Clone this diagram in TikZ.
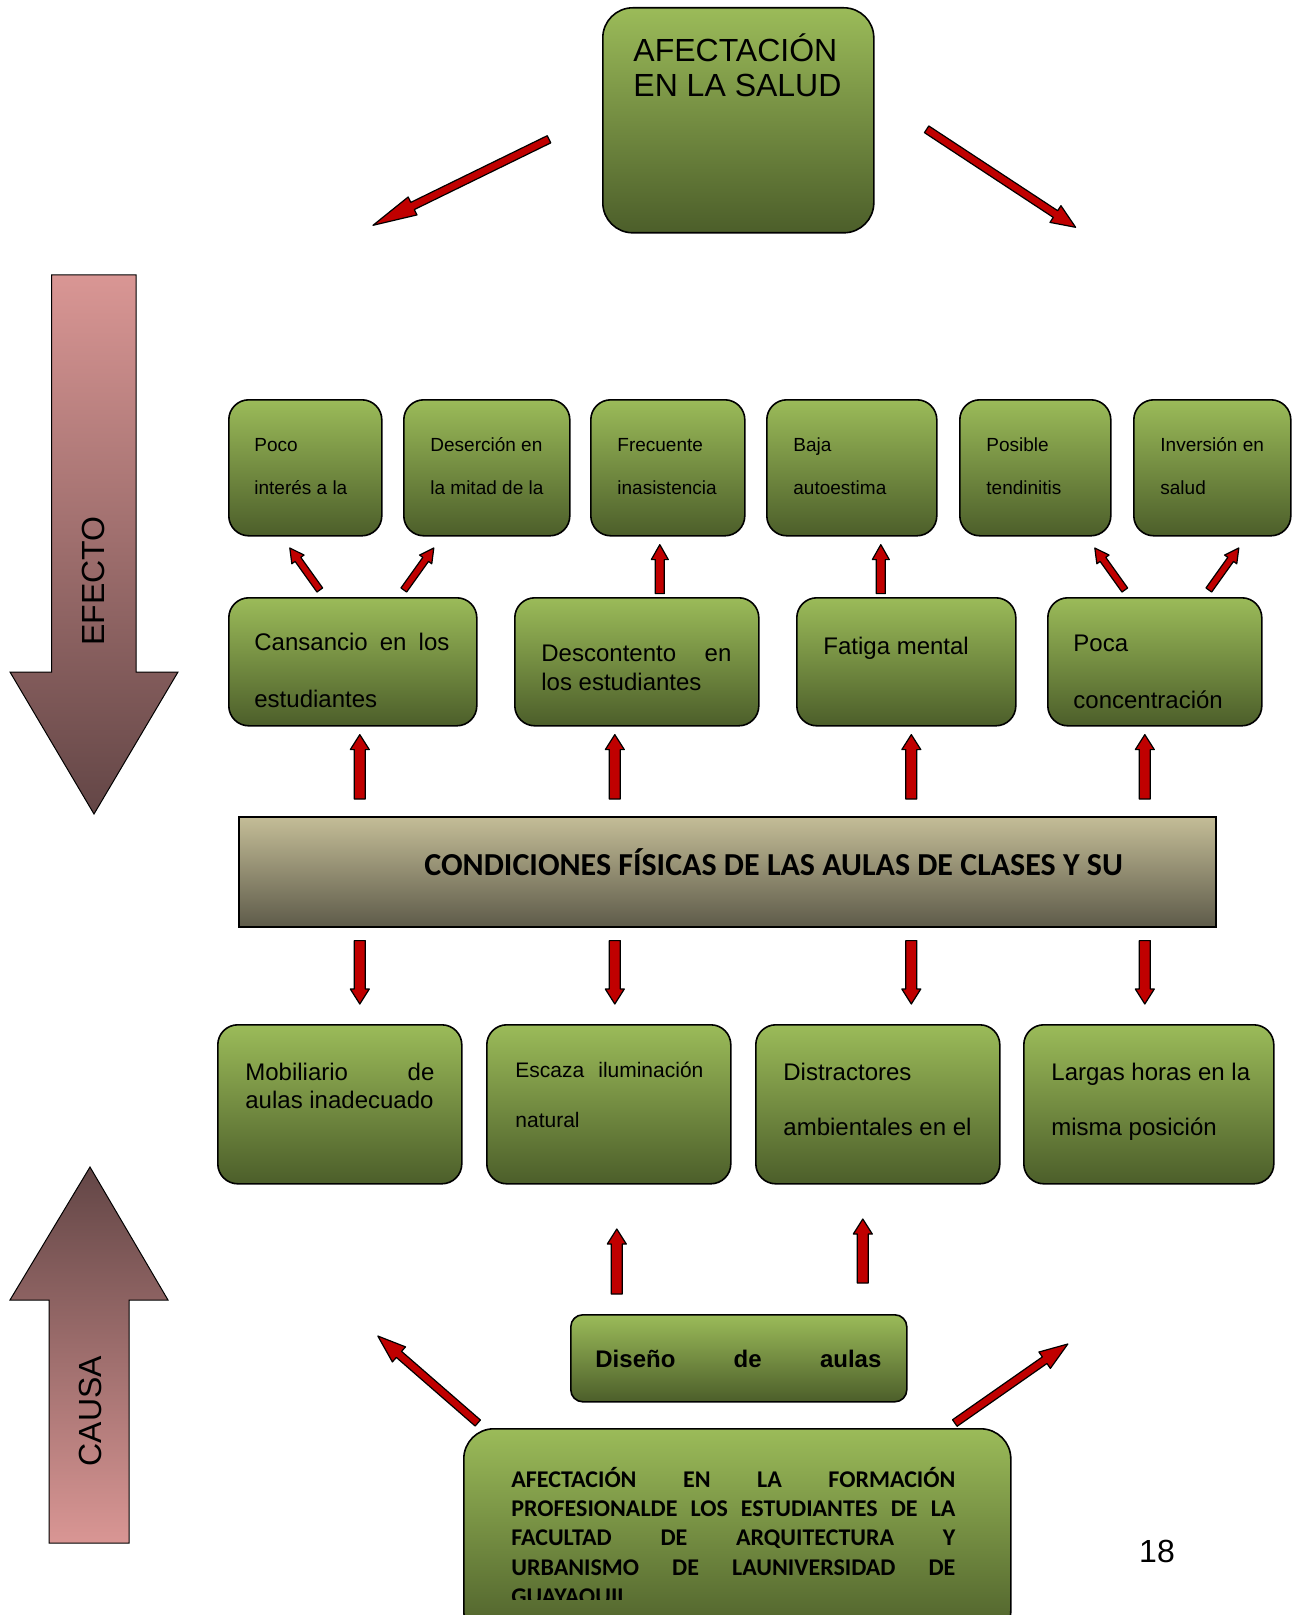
\documentclass[tikz,border=0pt]{standalone}
\usepackage{fontspec}
\setmainfont{Liberation Sans}
\newfontfamily\calibrifont{Carlito}
\usetikzlibrary{positioning,calc}

\definecolor{olivetop}{RGB}{155,187,89}
\definecolor{olivebot}{RGB}{76,94,42}
\definecolor{sandtop}{RGB}{196,189,151}
\definecolor{sandbot}{RGB}{94,91,74}
\definecolor{rosetop}{RGB}{217,150,148}
\definecolor{rosebot}{RGB}{99,70,70}
\definecolor{arrowred}{RGB}{192,0,0}

\newcommand{\fs}[2]{\fontsize{#1}{#2}\selectfont}
\newcommand{\stack}[1]{\begin{tabular}[t]{@{}l@{}}#1\end{tabular}}

\tikzset{
	greenbox/.style={draw=black, line width=0.8pt, rounded corners=10pt, top color=olivetop, bottom color=olivebot, anchor=north west, inner sep=0pt},
	txt/.style={anchor=base west, inner sep=0pt},
	arrowbody/.style={fill=arrowred, draw=black, line width=0.6pt, line join=round},
}

% #1 half shaft, #2 half head, #3 head length, #4 from, #5 to
\newcommand{\blockarrow}[5]{%
	\filldraw[arrowbody] let \p1=#4, \p2=#5,
		\n1={atan2(\y2-\y1,\x2-\x1)},
		\n2={veclen(\x2-\x1,\y2-\y1)-#3} in
		($(\p1)+(\n1+90:#1)$) -- ($(\p1)+(\n1:\n2)+(\n1+90:#1)$)
		-- ($(\p1)+(\n1:\n2)+(\n1+90:#2)$) -- (\p2)
		-- ($(\p1)+(\n1:\n2)+(\n1-90:#2)$) -- ($(\p1)+(\n1:\n2)+(\n1-90:#1)$)
		-- ($(\p1)+(\n1-90:#1)$) -- cycle;}
\newcommand{\longarrow}[3][22pt]{\blockarrow{2pt}{5pt}{#1}{#2}{#3}}
\newcommand{\stemarrow}[2]{\blockarrow{2.75pt}{4.75pt}{7.5pt}{#1}{#2}}
\newcommand{\midarrow}[2]{\blockarrow{2.25pt}{4.25pt}{7.5pt}{#1}{#2}}
\newcommand{\thinarrow}[2]{\blockarrow{1.75pt}{3.75pt}{7pt}{#1}{#2}}

\begin{document}
\begin{tikzpicture}[x=0.5pt, y=-0.5pt]
	\useasboundingbox (0,0) rectangle (1301,1615);

	\shadedraw[top color=rosetop, bottom color=rosebot, draw=black, line width=0.5pt]
		(51.5,275) -- (136,275) -- (136,672) -- (178,672) -- (94,814) -- (10,672) -- (51.5,672) -- cycle;
	\node[rotate=90, font=\fs{16}{19}, name=efecto] at (93,581) {EFECTO};
	\shadedraw[top color=rosebot, bottom color=rosetop, draw=black, line width=0.5pt]
		(90,1167) -- (168,1300) -- (129,1300) -- (129,1543) -- (49,1543) -- (49,1300) -- (10,1300) -- cycle;
	\node[rotate=90, font=\fs{16}{19}, name=causa] at (90,1411) {CAUSA};

	\node[greenbox, name=salud, rounded corners=15pt, minimum width=135.5pt, minimum height=112.5pt] at (602,7) {};
	\node[txt, font=\fs{16}{17.5}] at ($(salud.north west)+(31,55)$) {\stack{AFECTACIÓN\\EN LA SALUD}};

	\foreach \name/\x/\w in {poco/228/76.5pt, desercion/403/83pt, frecuente/590/77pt, baja/766/85pt, posible/959/75.5pt, inversion/1133/78.5pt}
		\node[greenbox, name=\name, minimum width=\w, minimum height=68pt] at (\x,399) {};
	\node[txt, font=\fs{9.5}{21.5}] at ($(poco.north west)+(26,52)$) {\stack{Poco\\interés a la}};
	\node[txt, font=\fs{9.5}{21.5}] at ($(desercion.north west)+(27,52)$) {\stack{Deserción en\\la mitad de la}};
	\node[txt, font=\fs{9.5}{21.5}] at ($(frecuente.north west)+(27,52)$) {\stack{Frecuente\\inasistencia}};
	\node[txt, font=\fs{9.5}{21.5}] at ($(baja.north west)+(27,52)$) {\stack{Baja\\autoestima}};
	\node[txt, font=\fs{9.5}{21.5}] at ($(posible.north west)+(27,52)$) {\stack{Posible\\tendinitis}};
	\node[txt, font=\fs{9.5}{21.5}] at ($(inversion.north west)+(27,52)$) {\stack{Inversión en\\salud}};

	\foreach \name/\x/\w in {cansancio/228/124pt, descontento/514/122pt, fatiga/796/109.5pt, poca/1047/107pt}
		\node[greenbox, name=\name, minimum width=\w, minimum height=64pt] at (\x,597) {};
	\node[txt, font=\fs{12}{28.5}] at ($(cansancio.north west)+(26,53)$) {\stack{\makebox[97.5pt][s]{Cansancio en los}\\estudiantes}};
	\node[txt, font=\fs{12}{14.5}] at ($(descontento.north west)+(27,64)$) {\stack{\makebox[95pt][s]{Descontento en}\\los estudiantes}};
	\node[txt, font=\fs{12}{14.5}] at ($(fatiga.north west)+(27,57)$) {Fatiga mental};
	\node[txt, font=\fs{12}{28.5}] at ($(poca.north west)+(26,54)$) {\stack{Poca\\concentración}};

	\node[name=cond, draw=black, line width=0.8pt, top color=sandtop, bottom color=sandbot, anchor=north west,
		minimum width=488.5pt, minimum height=55pt, inner sep=0pt] at (238,816) {};
	\node[txt, font=\calibrifont\bfseries\fs{16}{19}] at ($(cond.north west)+(186,59)$) {CONDICIONES FÍSICAS DE LAS AULAS DE CLASES Y SU};

	\foreach \name/\x/\w in {mobiliario/217/122pt, escaza/486/122pt, distractores/755/122pt, largas/1023/125pt}
		\node[greenbox, name=\name, minimum width=\w, minimum height=79.5pt] at (\x,1024) {};
	\node[txt, font=\fs{12}{14}] at ($(mobiliario.north west)+(28,56)$) {\stack{\makebox[94.5pt][s]{Mobiliario de}\\aulas inadecuado}};
	\node[txt, font=\fs{10.5}{25}] at ($(escaza.north west)+(29,53)$) {\stack{\makebox[94pt][s]{Escaza iluminación}\\natural}};
	\node[txt, font=\fs{12}{27.5}] at ($(distractores.north west)+(28,56)$) {\stack{Distractores\\ambientales en el}};
	\node[txt, font=\fs{12}{27.5}] at ($(largas.north west)+(28,56)$) {\stack{Largas horas en la\\misma posición}};

	\node[greenbox, name=diseno, rounded corners=6pt, minimum width=168pt, minimum height=43.5pt] at (570,1314) {};
	\node[txt, font=\bfseries\fs{12}{14}] at ($(diseno.north west)+(25,53)$) {\makebox[143pt][s]{Diseño de aulas}};

	\node[greenbox, name=formacion, rounded corners=15pt, minimum width=273.5pt, minimum height=106pt] at (463,1428) {};
	\begin{scope}
		\clip (463,1428) rectangle (1010,1599);
		\node[txt, font=\calibrifont\bfseries\fs{12}{14.7}] at ($(formacion.north west)+(48,59)$)
			{\stack{\makebox[222pt][s]{AFECTACIÓN EN LA FORMACIÓN}\\
			\makebox[222pt][s]{PROFESIONALDE LOS ESTUDIANTES DE LA}\\
			\makebox[222pt][s]{FACULTAD DE ARQUITECTURA Y}\\
			\makebox[222pt][s]{URBANISMO DE LAUNIVERSIDAD DE}\\
			GUAYAQUIL}};
	\end{scope}

	\node[font=\fs{16}{19}, name=pagina] at (1157,1551) {18};

	\longarrow[22pt]{($(salud.west)+(-53,19)$)}{($(salud.west)+(-229,105)$)}
	\longarrow[12pt]{($(salud.east)+(52,9)$)}{($(salud.east)+(201,107)$)}

	\thinarrow{($(cansancio.north)+(-33,-7)$)}{($(cansancio.north)+(-63,-49)$)}
	\thinarrow{($(cansancio.north)+(51,-7)$)}{($(cansancio.north)+(81,-49)$)}
	\thinarrow{($(poca.north)+(-30,-7)$)}{($(poca.north)+(-60,-49)$)}
	\thinarrow{($(poca.north)+(54,-7)$)}{($(poca.north)+(84,-49)$)}
	\midarrow{($(frecuente.south)+(-8,57)$)}{($(frecuente.south)+(-8,8)$)}
	\midarrow{($(baja.south)+(29,57)$)}{($(baja.south)+(29,8)$)}

	\foreach \b/\dx in {cansancio/7, descontento/-22, fatiga/5, poca/-10}{
		\stemarrow{($(\b.south |- cond.north)+(\dx,-17)$)}{($(\b.south)+(\dx,8)$)}
		\stemarrow{($(\b.south |- cond.south)+(\dx,13)$)}{($(\b.south |- mobiliario.north)+(\dx,-20)$)}
	}

	\stemarrow{($(diseno.north)+(-122,-20)$)}{($(diseno.north)+(-122,-85)$)}
	\stemarrow{($(diseno.north)+(124,-31)$)}{($(diseno.north)+(124,-95)$)}

	\longarrow[14pt]{($(formacion.north)+(-259.5,-5)$)}{($(formacion.north)+(-359.5,-92)$)}
	\longarrow[14pt]{($(formacion.north)+(217.5,-5)$)}{($(formacion.north)+(330.5,-84)$)}
\end{tikzpicture}
\end{document}
